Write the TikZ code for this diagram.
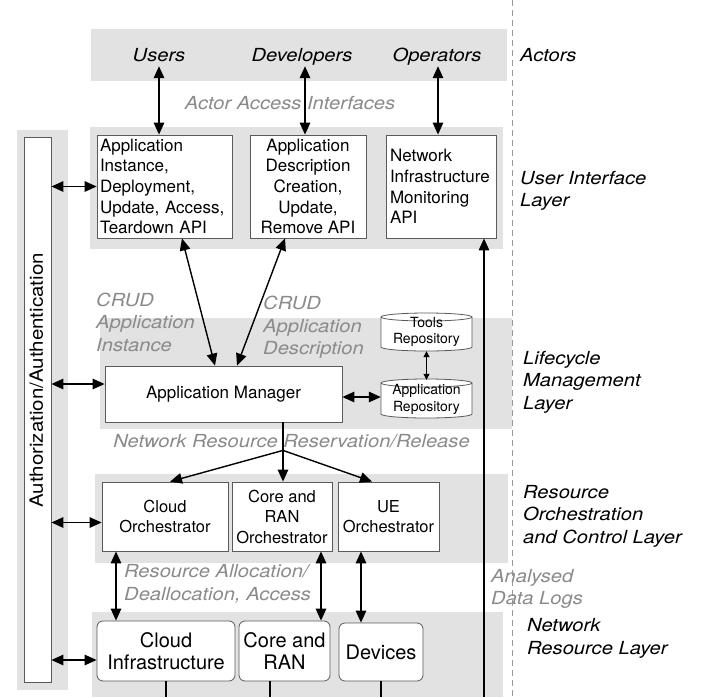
\documentclass[tikz,border=0pt]{standalone}
\usepackage{fontspec}
\setmainfont{TeX Gyre Heros}
\newfontfamily\widefont{TeX Gyre Heros}[FakeStretch=1.12]
\usetikzlibrary{arrows.meta,calc}
\definecolor{bandc}{HTML}{E2E2E2}
\definecolor{lblc}{HTML}{8A8A8A}
\definecolor{edgec}{HTML}{5A5A5A}
\begin{document}
\begin{tikzpicture}[x=1pt,y=1pt,
  bandbox/.style={fill=bandc,draw=none},
  boxst/.style={draw=edgec,fill=white,line width=0.8pt,inner sep=0pt},
  rbox/.style={boxst,rounded corners=6pt},
  boxfont/.style={font=\fontsize{17}{20.7}\selectfont},
  orchfont/.style={font=\fontsize{16.5}{20.5}\selectfont},
  resfont/.style={font=\fontsize{20}{22}\selectfont},
  actor/.style={font=\widefont\itshape\fontsize{18}{20}\selectfont,text height=12pt,text depth=4pt,inner xsep=0pt,inner ysep=1pt},
  layerlbl/.style={font=\widefont\itshape\fontsize{18}{22.5}\selectfont,align=left,anchor=west,inner sep=0pt},
  graylbl/.style={font=\widefont\itshape\fontsize{18}{22.5}\selectfont,text=lblc,align=left,inner sep=0pt},
  conn/.style={line width=1.4pt,{Triangle[length=12pt,width=10.5pt]}-{Triangle[length=12pt,width=10.5pt]}},
  oneway/.style={line width=1.4pt,-{Triangle[length=12pt,width=10.5pt]}},
  plainline/.style={line width=1.4pt},
  smallconn/.style={line width=1pt,{Triangle[length=6pt,width=6pt]}-{Triangle[length=6pt,width=6pt]}},
  cylst/.style={draw=edgec,fill=white,line width=0.8pt},
  dashline/.style={draw=black!40,line width=0.9pt,dash pattern=on 6pt off 4pt}
]
\useasboundingbox (0,0) rectangle (705,-697);

% gray bands
\fill[bandbox] (91,-29) rectangle (507,-81);
\fill[bandbox] (90,-127) rectangle (503,-249);
\fill[bandbox] (17,-130) rectangle (68,-690);
\fill[bandbox] (100,-318) rectangle (512,-429);
\fill[bandbox] (95,-474) rectangle (508,-563);
\fill[bandbox] (92,-612) rectangle (503,-697);

% dashed separator
\draw[dashline] (512,0) -- (512,-697);

% actors
\node[actor] (users) at (159,-57) {Users};
\node[actor] (devs) at (302,-57) {Developers};
\node[actor] (ops) at (437,-57) {Operators};

% user interface layer
\node[boxst,boxfont,minimum width=135pt,minimum height=103pt,text width=129pt,align=left] (uiapp) at (164.5,-186.5)
  {Application\\Instance,\\Deployment,\\Update, Access,\\Teardown API};
\node[boxst,boxfont,minimum width=116pt,minimum height=103pt,align=center] (uidesc) at (308,-186.5)
  {Application\\Description\\Creation,\\Update,\\Remove API};
\node[boxst,boxfont,minimum width=110pt,minimum height=103pt,text width=102pt,align=left] (uimon) at (441,-186.5)
  {Network\\Infrastructure\\Monitoring\\API};

% authorization
\node[boxst,minimum width=27pt,minimum height=545pt] (auth) at (37.5,-409.5) {};
\node[font=\widefont\fontsize{18.3}{20}\selectfont,rotate=90,inner sep=0pt] (authtxt) at (36.5,-380.5) {Authorization/Authentication};

% lifecycle layer
\node[boxst,font=\fontsize{17}{20}\selectfont,minimum width=237pt,minimum height=56pt] (am) at (223.5,-394) {Application Manager};

\draw[cylst] (381,-317) -- (381,-347) arc[start angle=180,end angle=360,x radius=45.5,y radius=4] -- (472,-317) arc[start angle=0,end angle=180,x radius=45.5,y radius=4] -- cycle;
\draw[cylst,fill=none] (381,-317) arc[start angle=180,end angle=360,x radius=45.5,y radius=4];
\draw[cylst] (381,-383) -- (381,-414) arc[start angle=180,end angle=360,x radius=45.5,y radius=4] -- (472,-383) arc[start angle=0,end angle=180,x radius=45.5,y radius=4] -- cycle;
\draw[cylst,fill=none] (381,-383) arc[start angle=180,end angle=360,x radius=45.5,y radius=4];
\node[font=\fontsize{14}{16.5}\selectfont,align=center,inner sep=0pt,minimum width=91pt,minimum height=38pt] (tools) at (426.5,-332) {Tools\\Repository};
\node[font=\fontsize{14}{16.5}\selectfont,align=center,inner sep=0pt,minimum width=91pt,minimum height=39pt] (apprepo) at (426.5,-399.5) {Application\\Repository};

% orchestration layer
\node[boxst,orchfont,minimum width=126pt,minimum height=69pt,align=center] (co) at (165,-516.5) {Cloud\\Orchestrator};
\node[boxst,orchfont,minimum width=100pt,minimum height=69pt,align=center] (cran) at (282,-516.5) {Core and\\RAN\\Orchestrator};
\node[boxst,orchfont,minimum width=101pt,minimum height=69pt,align=center] (ue) at (388.5,-516.5) {UE\\Orchestrator};

% resource layer
\node[rbox,resfont,minimum width=138pt,minimum height=60pt,align=center] (ci) at (166,-651) {Cloud\\Infrastructure};
\node[rbox,resfont,minimum width=91pt,minimum height=60pt,align=center] (cr) at (284.5,-651) {Core and\\RAN};
\node[rbox,resfont,minimum width=84pt,minimum height=58pt,align=center] (dev) at (381,-652) {Devices};

% gray labels
\node[graylbl] (aai) at (290,-103) {Actor Access Interfaces};
\node[graylbl,anchor=west] (crudi) at (96,-322) {CRUD\\Application\\Instance};
\node[graylbl,anchor=west] (crudd) at (263,-327.5) {CRUD\\Application\\Description};
\node[graylbl] (nrr) at (291.5,-441) {Network Resource Reservation/Release};
\node[graylbl,anchor=west] (rad) at (124,-584) {Resource Allocation/\\Deallocation, Access};
\node[graylbl,anchor=west] (adl) at (491,-589) {Analysed\\Data Logs};

% layer labels
\node[layerlbl] (lact) at (520,-55) {Actors};
\node[layerlbl] (lui) at (520,-191) {User Interface\\Layer};
\node[layerlbl] (llc) at (523,-382) {Lifecycle\\Management\\Layer};
\node[layerlbl] (lorch) at (523,-516) {Resource\\Orchestration\\and Control Layer};
\node[layerlbl] (lres) at (527,-638.5) {Network\\Resource Layer};

% coordinates
\coordinate (bot) at (0,-697);
\coordinate (amL) at ([yshift=10pt]am.west);
\coordinate (amR) at ([yshift=-3pt]am.east);
\coordinate (amB) at ([xshift=59.5pt]am.south);
\coordinate (br) at ($(amB)+(0,-28)$);
\coordinate (coL) at ([yshift=-6pt]co.west);
\coordinate (ciL) at ([yshift=-9pt]ci.west);
\coordinate (a1) at ([xshift=-49pt]co.south);
\coordinate (a2) at ([xshift=39pt]cran.south);
\coordinate (a3) at ([xshift=-27.5pt]ue.south);
\coordinate (logs) at (484,-697);

% actor arrows
\draw[conn] (users.south) -- (users.south |- uiapp.north);
\draw[conn] ([xshift=3pt]devs.south) -- ([xshift=3pt]devs.south |- uidesc.north);
\draw[conn] ([xshift=1pt]ops.south) -- ([xshift=1pt]ops.south |- uimon.north);

% auth arrows
\draw[conn] (uiapp.west -| auth.east) -- (uiapp.west);
\draw[conn] (amL -| auth.east) -- (amL);
\draw[conn] (coL -| auth.east) -- (coL);
\draw[conn] (ciL -| auth.east) -- (ciL);

% CRUD arrows
\draw[conn] ([xshift=-8.5pt]am.north) -- ([xshift=17.5pt]uiapp.south);
\draw[conn] ([xshift=13.5pt]am.north) -- ([xshift=-23pt]uidesc.south);

% repositories
\draw[smallconn] (tools.south) -- (apprepo.north);
\draw[conn] (amR) -- (amR -| apprepo.west);

% reservation fan-out
\draw[plainline] (amB) -- (br);
\draw[oneway] (br) -- ([xshift=5pt]co.north);
\draw[oneway] (br) -- (br |- cran.north);
\draw[oneway] (br) -- ([xshift=-16.5pt]ue.north);

% orchestration to resources
\draw[conn] (a1) -- (a1 |- ci.north);
\draw[conn] (a2) -- (a2 |- cr.north);
\draw[conn] (a3) -- (a3 |- dev.north);

% lines below resources
\draw[plainline] (ci.south) -- (ci.south |- bot);
\draw[plainline] ([xshift=-14.5pt]cr.south) -- ([xshift=-14.5pt]cr.south |- bot);
\draw[plainline] (dev.south) -- (dev.south |- bot);

% analysed data logs
\draw[oneway] (logs) -- (logs |- uimon.south);
\end{tikzpicture}
\end{document}
